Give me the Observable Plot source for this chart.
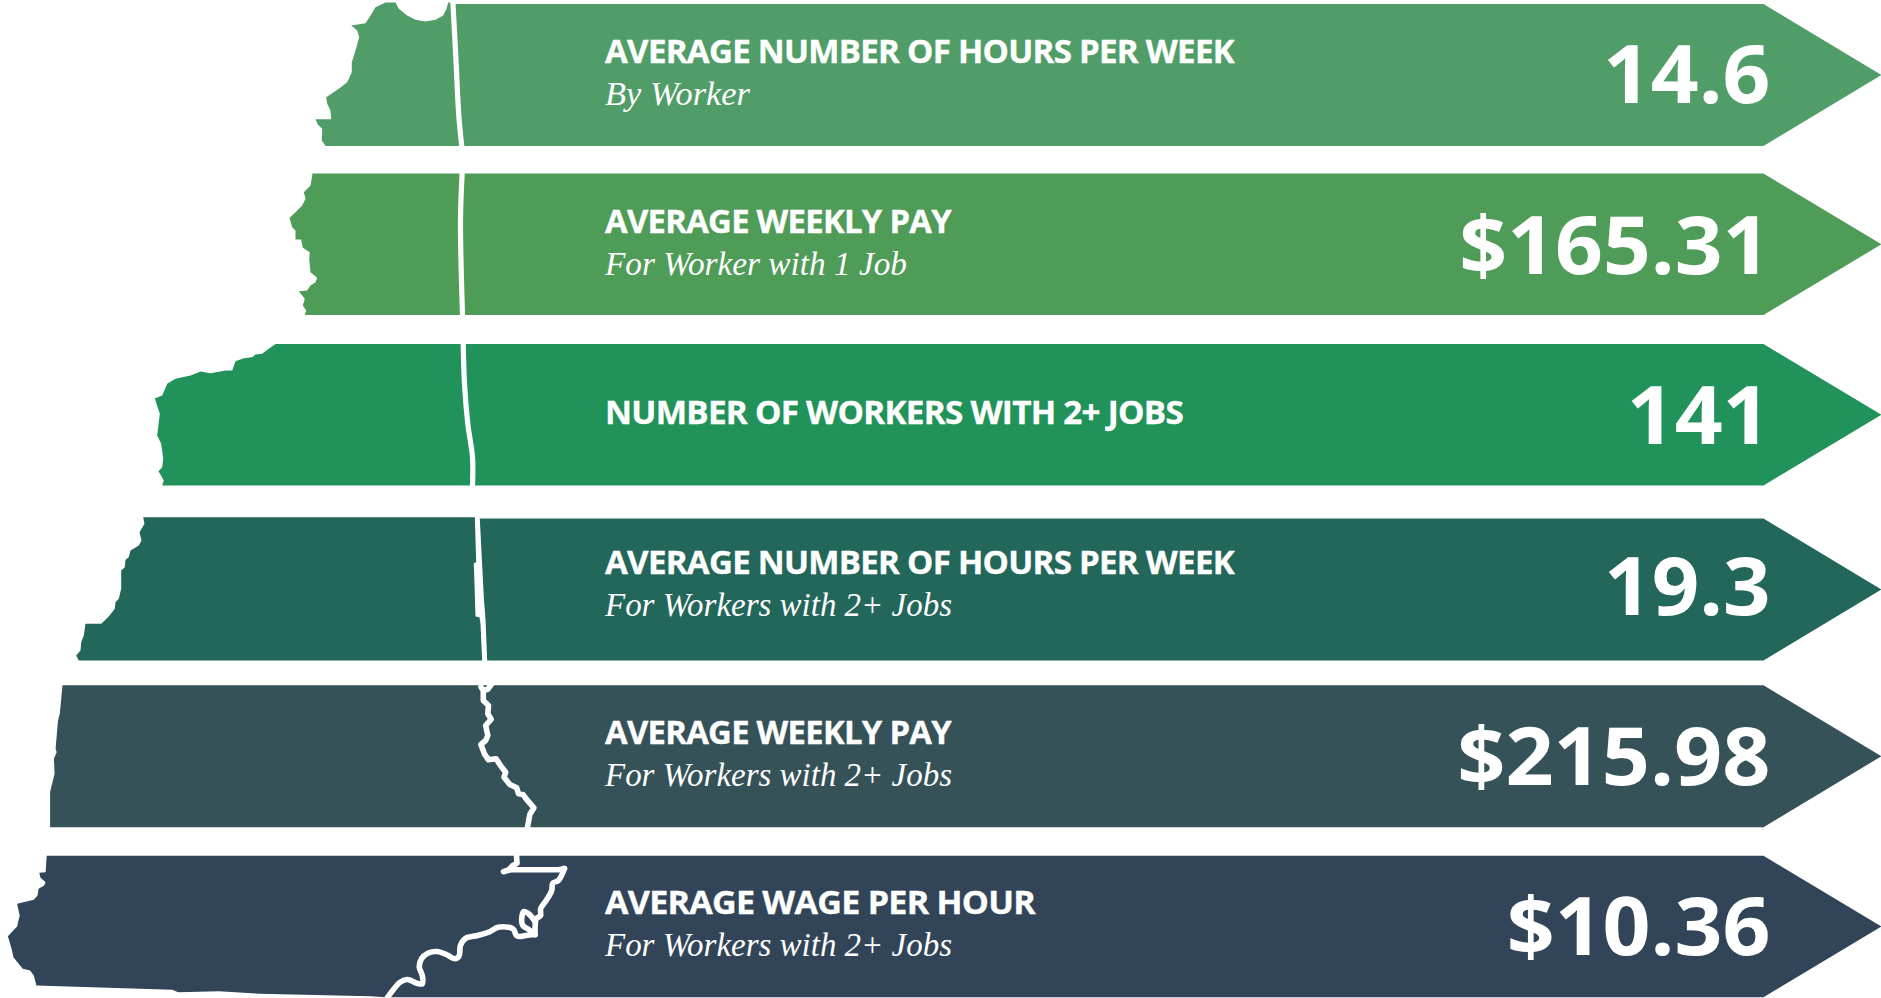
<!DOCTYPE html>
<html>
<head>
<meta charset="utf-8">
<style>html,body{margin:0;padding:0;background:#fff;overflow:hidden}svg{display:block}</style>
<script src="https://cdn.jsdelivr.net/npm/d3@7"></script>
<script src="https://cdn.jsdelivr.net/npm/@observablehq/plot@0.6"></script>
</head>
<body>
<script>
const titles = ["AVERAGE NUMBER OF HOURS PER WEEK","AVERAGE WEEKLY PAY","NUMBER OF WORKERS WITH 2+ JOBS","AVERAGE NUMBER OF HOURS PER WEEK","AVERAGE WEEKLY PAY","AVERAGE WAGE PER HOUR"];
const subtitles = ["By Worker","For Worker with 1 Job","","For Workers with 2+ Jobs","For Workers with 2+ Jobs","For Workers with 2+ Jobs"];
const valueLabels = ["14.6","$165.31","141","19.3","$215.98","$10.36"];
const colors = ["#509d67","#4f9c58","#219259","#23665a","#355258","#324558"];
const bandTops = [3.5,173,343.5,518,684.7,855.3];
const bandBottoms = [145.5,314.5,485,660,826.7,996.7];
const titleBaselines = [62.7,232.7,423,573.5,743,913];
const subBaselines = [104,274,null,615.5,785.5,955.5];
const valueBaselines = [102,273,443,614,784,954];
const titleWidths = [629,346,578,629,346,430];
const subWidths = [145,302,null,347,347,347];
const valueStretch = [1.047,1.047,1.048,1.04,1.054,1.049];

const outline1 = [[454.7,3.5],[449.7,2],[447.7,2],[446,8.3],[442.7,15],[435,19.3],[425,21],[415,19.3],[406.7,15],[398.3,8.3],[395,2],[385,2],[375,6.7],[370,15],[365,22.7],[350.7,25],[356.7,30],[358.7,36.7],[355,50],[351.3,61.7],[351.3,71.7],[346.7,81.7],[338.3,88.3],[325.7,96.7],[326.7,103.3],[330,110],[330.7,118.7],[315,118.7],[317.3,124],[321.7,128.3],[321.3,140],[325,145.5]];
const outline2 = [[312,173],[310,185],[303.3,191.7],[305,198.3],[301.7,205],[295,211.7],[289,217.3],[291.7,226.7],[295,230],[295,239],[300.7,239],[302.3,247.3],[309.3,251.7],[308.7,258.3],[310,271.7],[316.7,277.3],[315,281.7],[310,285],[306.7,290],[298.3,290.7],[304.3,298.3],[302.3,305],[305.7,310],[304.3,314.5]];
const outline3 = [[275,343.5],[268.3,348.3],[261.7,353.3],[255,354],[251.7,356.7],[243.3,357.7],[235,360.7],[231.7,370],[225,370],[210,372.7],[200,371],[190,375],[175,378.3],[166.7,383.3],[161.7,395],[154.3,398],[159.3,413.3],[156.7,435],[160.7,443.3],[162.7,458.3],[161.7,466.7],[158,470.7],[163.3,480],[161.7,485]];
const outline4 = [[480,518],[476,516.7],[142.7,516.7],[144,523.3],[139,531.7],[141,540],[138.3,545],[130,550],[128.3,556.7],[125,559.3],[124.3,566.7],[120.7,570],[120.7,588.3],[118.3,598.3],[115,601.7],[114.3,608.3],[108.3,616],[100.7,623.3],[85,623.3],[83.3,635],[80.7,641.7],[80,650],[75.7,655],[78.3,660]];
const outline5 = [[62,684.7],[59.3,713.3],[57.5,720],[55.1,748.3],[56.2,751.7],[53.4,758.3],[54.1,773.3],[50.7,786.7],[49.6,791.7],[49.6,826.7]];
const outline6 = [[46.2,855.3],[45.1,871.7],[38.8,872.3],[40,877.3],[45.1,881.7],[43.7,885],[38.1,888.3],[37,895],[33.3,899.3],[16.6,903.3],[19.2,915],[16.6,926],[7.4,935.7],[11.1,948.3],[12.9,956.7],[22.2,968.3],[29.6,970],[33.3,975],[35.9,985],[172,989.3],[177.6,991.7],[218.3,990.7],[259,993.3],[370,995.7],[384.8,996.7]];
const outlines = [outline1,outline2,outline3,outline4,outline5,outline6];

const border1 = [[452.3,0],[455.5,60],[458.3,115],[461.3,146]];
const border2 = [[461.7,172],[460,220],[462,315]];
const border3 = [[462.7,343],[464,383.3],[467.3,423.3],[472,456.7],[472,485.5]];
const border4 = [[474.3,516],[475.7,561.7],[473.3,562.7],[475,616],[479,616.7],[480,623.3],[481.7,660.5],[486.7,660.5],[485,618.3],[483.3,596.7],[479.3,518.3],[479,516]];
const border5 = [[490.7,684],[487.3,688.7],[482.8,690],[480.5,686.5],[482.8,690],[482.8,700],[488,705],[487.3,713.3],[490.7,718.7],[485.2,725],[487.3,735],[485.2,740],[480.4,744],[483.9,753.3],[488,759.3],[495.6,758.3],[500,765],[505.2,771.7],[503.5,776.7],[509.3,784],[516.2,787.3],[518,793.3],[522.4,794],[527.6,800.7],[533.4,807.3],[529.3,814],[526.9,827.5]];
const bootheel = [[516,855],[516.5,862.7],[512.4,865],[508,869.5],[503,871.2],[510,869.3],[558,869.3],[564,868]];
const border6 = [[564,868],[557.9,880],[552.3,882.7],[551.2,890],[545.7,900],[540.1,908.3],[540.1,915],[535.7,918.3],[534.6,927],[534.6,934]];
const oxbow = [[534.6,921],[529,914],[523.5,911],[521.6,915],[522.4,925],[527.2,928.3],[534.6,934]];
const river = [[534.6,934],[525.4,935],[519,936],[516,935],[512.4,928.3],[497.6,926.7],[488.3,931.7],[477.2,935],[465.4,937.7],[459.9,945],[458.8,955],[455,958.3],[445.8,954],[436.6,951],[427.3,952.7],[421,958.3],[418.8,966.7],[421.8,975],[421.8,983.3],[416.2,982.7],[407,979],[399.6,981.7],[392.2,990],[386.6,997.5]];

const shapes = outlines.map((o,i)=>[...o,[1763,bandBottoms[i]],[1881,(bandTops[i]+bandBottoms[i])/2],[1763,bandTops[i]]]);
const rows = titles.map((t,i)=>({title:t,sub:subtitles[i],value:valueLabels[i],ty:titleBaselines[i],sy:subBaselines[i],vy:valueBaselines[i]}));
const px = {x:d=>d[0],y:d=>d[1]};

const plot = Plot.plot({
  width:1881,height:998,margin:0,
  x:{domain:[0,1881],range:[0,1881],axis:null},
  y:{domain:[0,998],range:[0,998],axis:null},
  marks:[
    ...shapes.map((s,i)=>Plot.line(s,{...px,fill:colors[i],stroke:"none"})),
    ...[border1,border2,border3].map(b=>Plot.line(b,{...px,stroke:"#fff",strokeWidth:5.2,curve:"catmull-rom"})),
    Plot.line(border4,{...px,fill:"#fff",stroke:"none"}),
    Plot.line(border5,{...px,stroke:"#fff",strokeWidth:5.6,strokeLinejoin:"round",strokeLinecap:"round"}),
    Plot.line(bootheel,{...px,stroke:"#fff",strokeWidth:5.6,strokeLinejoin:"round"}),
    ...[border6,oxbow,river].map(b=>Plot.line(b,{...px,stroke:"#fff",strokeWidth:5.6,strokeLinejoin:"round",strokeLinecap:"round",curve:"catmull-rom"})),
    Plot.text(rows,{x:()=>604.5,y:"ty",text:"title",textAnchor:"start",lineAnchor:"bottom",fill:"#fff",stroke:"#fff",strokeWidth:0.35,fontFamily:"Open Sans",fontWeight:700,fontSize:32}),
    Plot.text(rows.filter(d=>d.sub),{x:()=>604.5,y:"sy",text:"sub",textAnchor:"start",lineAnchor:"bottom",fill:"#fff",fontFamily:"Liberation Serif",fontStyle:"italic",fontSize:33}),
    Plot.text(rows,{x:()=>1770,y:"vy",text:"value",textAnchor:"end",lineAnchor:"bottom",fill:"#fff",fontFamily:"Open Sans",fontWeight:700,fontSize:80})
  ]
});
document.body.appendChild(plot);

// Condense or stretch each label to the width it has in the reference.
function setWidth(node,w){
  node.setAttribute("lengthAdjust","spacingAndGlyphs");
  node.setAttribute("textLength",w);
}
const all = [...plot.querySelectorAll("text")];
const byFont = size => all.filter(n=>{
  const g = n.closest("g[font-size]");
  return g && g.getAttribute("font-size")==String(size);
});
byFont(32).forEach((n,i)=>{n.style.letterSpacing="-0.7px";setWidth(n,titleWidths[i]);});
const subIdx = subWidths.map((w,i)=>w==null?-1:i).filter(i=>i>=0);
byFont(33).forEach((n,i)=>setWidth(n,subWidths[subIdx[i]]));
byFont(80).forEach((n,i)=>setWidth(n,n.getComputedTextLength()*valueStretch[i]));
</script>
</body>
</html>
